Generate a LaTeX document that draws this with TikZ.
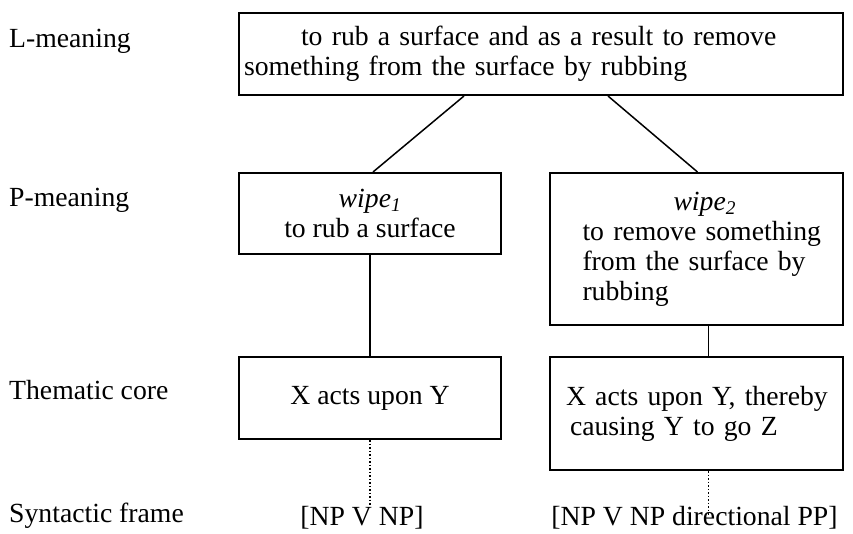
\documentclass[tikz,border=0pt]{standalone}
\usepackage{fontspec}
\setmainfont{Liberation Serif}
\usetikzlibrary{positioning}

\begin{document}
\begin{tikzpicture}[
    x=1pt, y=-1pt,
    font=\fontsize{27.7pt}{30pt}\selectfont,
    level/.style={anchor=base west, inner sep=0pt},
    sense/.style={rectangle, draw, line width=2pt, inner sep=0pt, align=center},
    frame/.style={inner sep=0pt},
    link/.style={line width=1.5pt},
    dots/.style={line width=1.5pt, dotted}
]
\useasboundingbox (0,0) rectangle (853,533);

% Level labels
\node[level] (lmlabel) at (9,47) {L-meaning};
\node[level] (pmlabel) at (9,206) {P-meaning};
\node[level] (tclabel) at (9,399) {Thematic core};
\node[level] (sflabel) at (9,522) {Syntactic frame};

% L-meaning
\node[sense, anchor=north west, minimum width=604pt, minimum height=82pt, text width=594pt, align=left] (lmbox) at (238,12)
    {\hspace*{57pt}to rub a surface and as a result to remove\\something from the surface by rubbing};

% P-meanings
\node[sense, below=76pt of lmbox.south west, anchor=north west, minimum width=262pt, minimum height=81pt] (wipeone)
    {{\itshape wipe\textsubscript{1}}\\to rub a surface};
\node[sense, below=76pt of lmbox.south east, anchor=north east, minimum width=293pt, minimum height=152pt, text width=276pt, align=left] (wipetwo)
    {\hspace*{115pt}{\itshape wipe\textsubscript{2}}\\\hspace*{24pt}to remove something\\\hspace*{24pt}from the surface by\\\hspace*{24pt}rubbing};

% Thematic cores
\node[sense, below=101pt of wipeone, minimum width=262pt, minimum height=82pt] (themone) {X acts upon Y};
\node[sense, below=30pt of wipetwo, minimum width=293pt, minimum height=113pt, text width=275pt, align=left] (themtwo)
    {\hspace*{7pt}X acts upon Y, thereby\\\hspace*{11pt}causing Y to go Z};

% Syntactic frames
\node[frame, below=66pt of themone, xshift=-8pt] (frameone) {[NP V NP]};
\node[frame, below=35pt of themtwo, xshift=-2pt] (frametwo) {[NP V NP directional PP]};

% Links
\draw[link] ([xshift=-77pt]lmbox.south) -- ([xshift=3pt]wipeone.north);
\draw[link] ([xshift=67pt]lmbox.south) -- ([xshift=1pt]wipetwo.north);
\draw[link] (wipeone) -- (themone);
\draw[link] ([xshift=12pt]wipetwo.south) -- ([xshift=12pt]themtwo.north);
\draw[dots] (themone.south) -- (themone.south |- frameone.north);
\draw[dots, shorten >=-10pt] ([xshift=12pt]themtwo.south) -- ([xshift=12pt]themtwo.south |- frametwo.north);

\end{tikzpicture}
\end{document}
